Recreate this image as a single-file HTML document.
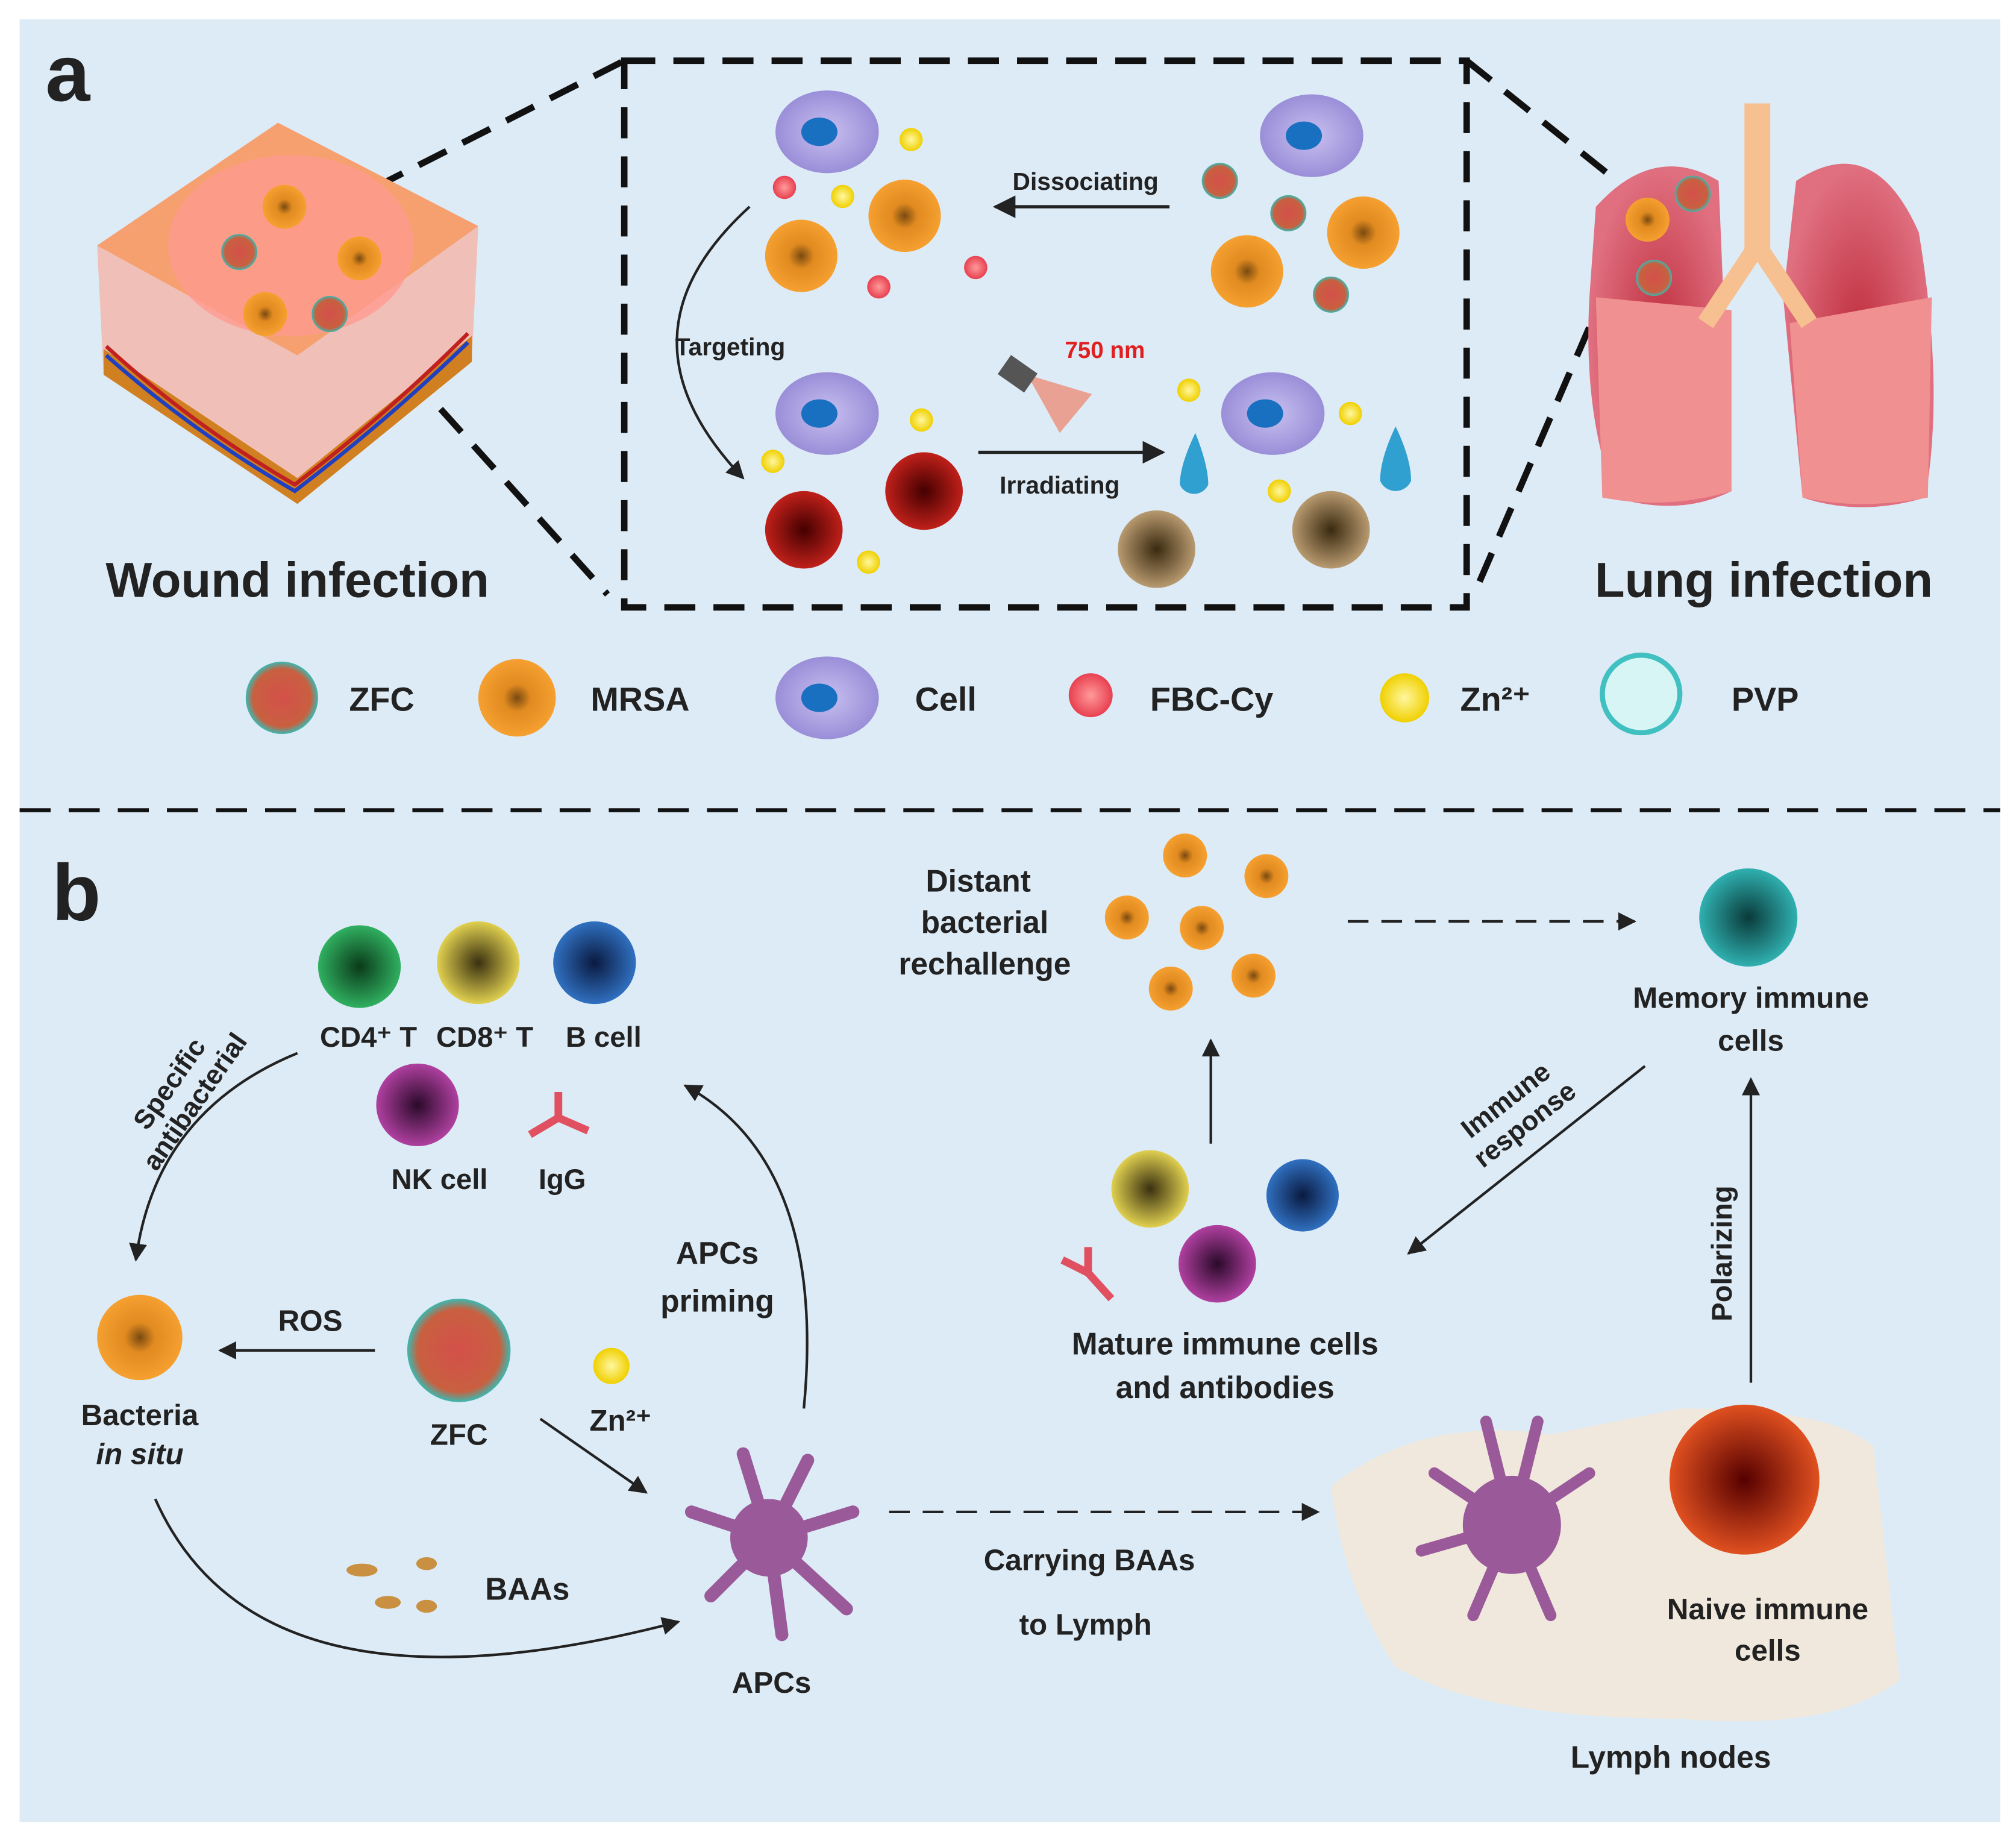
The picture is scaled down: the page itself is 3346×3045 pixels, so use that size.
<!DOCTYPE html>
<html><head><meta charset="utf-8"><style>
html,body{margin:0;padding:0;background:#fff}
svg{display:block}
text{font-family:"Liberation Sans",sans-serif;font-weight:bold;fill:#222}
</style></head><body>
<svg width="3346" height="3045" viewBox="0 0 1560 1420" xmlns="http://www.w3.org/2000/svg">
<defs>
<radialGradient id="mrsa"><stop offset="0" stop-color="#7a4a10"/><stop offset=".35" stop-color="#e08a20"/><stop offset="1" stop-color="#f5a030"/></radialGradient>
<radialGradient id="red"><stop offset="0" stop-color="#400"/><stop offset="1" stop-color="#c0201a"/></radialGradient>
<radialGradient id="brown"><stop offset="0" stop-color="#3a2a10"/><stop offset="1" stop-color="#b89a70"/></radialGradient>
<radialGradient id="zfc"><stop offset="0" stop-color="#d4504a"/><stop offset=".8" stop-color="#c86040"/><stop offset="1" stop-color="#3bb8b0"/></radialGradient>
<radialGradient id="cell"><stop offset="0" stop-color="#c8c0f0"/><stop offset="1" stop-color="#9a8ed8"/></radialGradient>
<radialGradient id="yel"><stop offset="0" stop-color="#fff7a0"/><stop offset="1" stop-color="#f0d000"/></radialGradient>
<radialGradient id="pink"><stop offset="0" stop-color="#ff9a9a"/><stop offset="1" stop-color="#e84050"/></radialGradient>
<radialGradient id="g1"><stop offset="0" stop-color="#0a3a1a"/><stop offset="1" stop-color="#30b060"/></radialGradient>
<radialGradient id="g2"><stop offset="0" stop-color="#3a3010"/><stop offset="1" stop-color="#e0d050"/></radialGradient>
<radialGradient id="g3"><stop offset="0" stop-color="#0a1a40"/><stop offset="1" stop-color="#3070c0"/></radialGradient>
<radialGradient id="g4"><stop offset="0" stop-color="#2a0a2a"/><stop offset="1" stop-color="#b040a0"/></radialGradient>
<radialGradient id="g5"><stop offset="0" stop-color="#0a3a3a"/><stop offset="1" stop-color="#30b0b0"/></radialGradient>
<radialGradient id="g6"><stop offset="0" stop-color="#500"/><stop offset="1" stop-color="#e05020"/></radialGradient>
<radialGradient id="lung"><stop offset="0" stop-color="#c03040"/><stop offset="1" stop-color="#e07080"/></radialGradient>
<marker id="ar" viewBox="0 0 10 10" refX="9" refY="5" markerWidth="7" markerHeight="7" orient="auto"><path d="M0,0L10,5L0,10z" fill="#222"/></marker>
<g id="M"><circle r="28" fill="url(#mrsa)"/></g>
<g id="Ms"><circle r="17" fill="url(#mrsa)"/></g>
<g id="Z"><circle r="14" fill="url(#zfc)"/></g>
<g id="C"><ellipse rx="40" ry="32" fill="url(#cell)"/><ellipse cx="-6" rx="14" ry="11" fill="#1a70c0"/></g>
<g id="Y"><circle r="9" fill="url(#yel)"/></g>
<g id="P"><circle r="9" fill="url(#pink)"/></g>
</defs>
<rect x="15" y="15" width="1533" height="1395" fill="#ddebf6"/>
<text x="35" y="78" font-size="62">a</text>
<text x="40" y="712" font-size="62">b</text>
<g stroke="#111" stroke-width="5" stroke-dasharray="24,14" fill="none">
<rect x="483" y="47" width="652" height="423"/>
<line x1="290" y1="145" x2="483" y2="47"/>
<line x1="290" y1="260" x2="470" y2="460"/>
<line x1="1135" y1="47" x2="1245" y2="135"/>
<line x1="1145" y1="450" x2="1240" y2="230"/>
<line x1="15" y1="627" x2="1548" y2="627" stroke-width="3"/>
</g>
<path d="M75,190 L215,95 L370,175 L365,280 L230,390 L80,290Z" fill="#f0c0b8"/>
<path d="M75,190 L215,95 L370,175 L230,275Z" fill="#f6a070"/>
<ellipse cx="225" cy="190" rx="95" ry="70" fill="#ff9a90" opacity=".8"/>
<path d="M80,290 L230,390 L365,280 L365,260 L230,370 L80,270Z" fill="#d08020"/>
<path d="M82,268 Q150,330 228,375 Q300,320 362,258" stroke="#c02020" stroke-width="3" fill="none"/>
<path d="M82,275 Q150,335 228,380 Q300,325 362,265" stroke="#2040c0" stroke-width="3" fill="none"/>
<use href="#Ms" x="220" y="160"/><use href="#Ms" x="278" y="200"/><use href="#Ms" x="205" y="243"/>
<use href="#Z" x="185" y="195"/><use href="#Z" x="255" y="243"/>
<text x="230" y="462" font-size="38" text-anchor="middle">Wound infection</text>
<path d="M1235,160 Q1280,110 1330,140 L1340,380 Q1300,400 1250,385 Q1225,320 1230,230Z" fill="url(#lung)"/>
<path d="M1390,140 Q1450,100 1485,180 Q1505,300 1490,385 Q1440,400 1395,385 L1380,230Z" fill="url(#lung)"/>
<path d="M1235,230 L1340,240 L1340,380 Q1290,395 1240,385Z" fill="#f09090"/>
<path d="M1385,250 L1495,230 L1492,385 Q1440,395 1395,385Z" fill="#f09090"/>
<rect x="1350" y="80" width="20" height="120" fill="#f7c090"/>
<path d="M1360,190 L1320,250 M1360,190 L1400,250" stroke="#f7c090" stroke-width="14" fill="none"/>
<use href="#Ms" x="1275" y="170"/><use href="#Z" x="1310" y="150"/><use href="#Z" x="1280" y="215"/>
<text x="1365" y="462" font-size="38" text-anchor="middle">Lung infection</text>
<use href="#C" x="640" y="102"/><use href="#C" x="1015" y="105"/>
<use href="#C" x="640" y="320"/><use href="#C" x="985" y="320"/>
<use href="#M" x="620" y="198"/><use href="#M" x="700" y="167"/>
<use href="#M" x="965" y="210"/><use href="#M" x="1055" y="180"/>
<use href="#Y" x="705" y="108"/><use href="#Y" x="652" y="152"/><use href="#Y" x="713" y="325"/><use href="#Y" x="598" y="357"/><use href="#Y" x="672" y="435"/>
<use href="#Y" x="920" y="302"/><use href="#Y" x="1045" y="320"/><use href="#Y" x="990" y="380"/>
<use href="#P" x="607" y="145"/><use href="#P" x="680" y="222"/><use href="#P" x="755" y="207"/>
<use href="#Z" x="944" y="140"/><use href="#Z" x="997" y="165"/><use href="#Z" x="1030" y="228"/>
<circle cx="622" cy="410" r="30" fill="url(#red)"/><circle cx="715" cy="380" r="30" fill="url(#red)"/>
<circle cx="895" cy="425" r="30" fill="url(#brown)"/><circle cx="1030" cy="410" r="30" fill="url(#brown)"/>
<path d="M925,335 Q935,360 935,375 A12,12 0 0 1 913,375 Q913,360 925,335Z" fill="#30a0d0"/>
<path d="M1080,330 Q1092,355 1092,372 A13,13 0 0 1 1068,372 Q1068,355 1080,330Z" fill="#30a0d0"/>
<line x1="905" y1="160" x2="770" y2="160" stroke="#222" stroke-width="2.5" marker-end="url(#ar)"/>
<text x="840" y="147" font-size="19" text-anchor="middle">Dissociating</text>
<path d="M580,160 Q470,260 575,370" stroke="#222" stroke-width="2" fill="none" marker-end="url(#ar)"/>
<text x="565" y="275" font-size="19" text-anchor="middle">Targeting</text>
<line x1="757" y1="350" x2="900" y2="350" stroke="#222" stroke-width="2.5" marker-end="url(#ar)"/>
<text x="820" y="382" font-size="19" text-anchor="middle">Irradiating</text>
<text x="855" y="277" font-size="18" style="fill:#e02020" text-anchor="middle">750 nm</text>
<path d="M795,290 L845,305 L820,335Z" fill="#f07050" opacity=".6"/>
<rect x="775" y="280" width="25" height="18" fill="#555" transform="rotate(35 787 289)"/>
<circle cx="218" cy="540" r="28" fill="url(#zfc)"/><text x="270" y="550" font-size="26">ZFC</text>
<circle cx="400" cy="540" r="30" fill="url(#mrsa)"/><text x="457" y="550" font-size="26">MRSA</text>
<use href="#C" x="640" y="540"/><text x="708" y="550" font-size="26">Cell</text>
<circle cx="844" cy="538" r="17" fill="url(#pink)"/><text x="890" y="550" font-size="26">FBC-Cy</text>
<circle cx="1087" cy="540" r="19" fill="url(#yel)"/><text x="1130" y="550" font-size="26">Zn²⁺</text>
<circle cx="1270" cy="537" r="30" fill="#d8f5f5" stroke="#40c0c0" stroke-width="4"/><text x="1340" y="550" font-size="26">PVP</text>
<circle cx="278" cy="748" r="32" fill="url(#g1)"/><circle cx="370" cy="745" r="32" fill="url(#g2)"/><circle cx="460" cy="745" r="32" fill="url(#g3)"/>
<text x="285" y="810" font-size="22" text-anchor="middle">CD4⁺ T</text><text x="375" y="810" font-size="22" text-anchor="middle">CD8⁺ T</text><text x="467" y="810" font-size="22" text-anchor="middle">B cell</text>
<circle cx="323" cy="855" r="32" fill="url(#g4)"/>
<path d="M432,845 L432,865 M432,865 L410,878 M432,865 L455,875" stroke="#e05060" stroke-width="6" fill="none"/>
<text x="340" y="920" font-size="22" text-anchor="middle">NK cell</text><text x="435" y="920" font-size="22" text-anchor="middle">IgG</text>
<g transform="translate(140,845) rotate(-55)">
<text x="0" y="-4" font-size="21" text-anchor="middle">Specific</text>
<text x="0" y="20" font-size="21" text-anchor="middle">antibacterial</text>
</g>
<path d="M230,815 Q120,860 105,975" stroke="#222" stroke-width="2" fill="none" marker-end="url(#ar)"/>
<circle cx="108" cy="1035" r="33" fill="url(#mrsa)"/>
<text x="108" y="1103" font-size="23" text-anchor="middle">Bacteria</text>
<text x="108" y="1133" font-size="23" text-anchor="middle" font-style="italic">in situ</text>
<line x1="290" y1="1045" x2="170" y2="1045" stroke="#222" stroke-width="2" marker-end="url(#ar)"/>
<text x="240" y="1030" font-size="23" text-anchor="middle">ROS</text>
<circle cx="355" cy="1045" r="40" fill="url(#zfc)"/>
<text x="355" y="1118" font-size="23" text-anchor="middle">ZFC</text>
<circle cx="473" cy="1057" r="14" fill="url(#yel)"/>
<text x="480" y="1107" font-size="23" text-anchor="middle">Zn²⁺</text>
<line x1="418" y1="1098" x2="500" y2="1155" stroke="#222" stroke-width="2" marker-end="url(#ar)"/>
<text x="555" y="978" font-size="24" text-anchor="middle">APCs</text>
<text x="555" y="1015" font-size="24" text-anchor="middle">priming</text>
<path d="M622,1090 Q640,900 530,840" stroke="#222" stroke-width="2" fill="none" marker-end="url(#ar)"/>
<path d="M120,1160 Q200,1340 525,1255" stroke="#222" stroke-width="2" fill="none" marker-end="url(#ar)"/>
<g fill="#c89040"><ellipse cx="280" cy="1215" rx="12" ry="5"/><ellipse cx="300" cy="1240" rx="10" ry="5"/><ellipse cx="330" cy="1210" rx="8" ry="5"/><ellipse cx="330" cy="1243" rx="8" ry="5"/></g>
<text x="408" y="1238" font-size="24" text-anchor="middle">BAAs</text>
<g transform="translate(595,1190)" stroke="#9a5a9a" stroke-width="10" stroke-linecap="round">
<line x1="0" y1="0" x2="-60" y2="-20"/><line x1="0" y1="0" x2="-45" y2="45"/><line x1="0" y1="0" x2="10" y2="75"/><line x1="0" y1="0" x2="60" y2="55"/><line x1="0" y1="0" x2="65" y2="-20"/><line x1="0" y1="0" x2="30" y2="-60"/><line x1="0" y1="0" x2="-20" y2="-65"/>
<circle r="30" fill="#9a5a9a" stroke="none"/></g>
<text x="597" y="1310" font-size="23" text-anchor="middle">APCs</text>
<line x1="688" y1="1170" x2="1020" y2="1170" stroke="#222" stroke-width="2" stroke-dasharray="16,10" marker-end="url(#ar)"/>
<text x="843" y="1215" font-size="23" text-anchor="middle">Carrying BAAs</text>
<text x="840" y="1265" font-size="23" text-anchor="middle">to Lymph</text>
<path d="M1030,1150 Q1100,1095 1200,1110 L1300,1090 Q1420,1090 1450,1120 L1470,1300 Q1420,1340 1300,1330 Q1150,1330 1080,1290 Q1040,1230 1030,1150Z" fill="#f0e8dc"/>
<g transform="translate(1170,1180)" stroke="#9a5a9a" stroke-width="9" stroke-linecap="round">
<line x1="0" y1="0" x2="-60" y2="-40"/><line x1="0" y1="0" x2="-70" y2="20"/><line x1="0" y1="0" x2="-30" y2="70"/><line x1="0" y1="0" x2="30" y2="70"/><line x1="0" y1="0" x2="20" y2="-80"/><line x1="0" y1="0" x2="-20" y2="-80"/><line x1="0" y1="0" x2="60" y2="-40"/>
<circle r="38" fill="#9a5a9a" stroke="none"/></g>
<circle cx="1350" cy="1145" r="58" fill="url(#g6)"/>
<text x="1368" y="1253" font-size="23" text-anchor="middle">Naive immune</text>
<text x="1368" y="1285" font-size="23" text-anchor="middle">cells</text>
<text x="1293" y="1368" font-size="24" text-anchor="middle">Lymph nodes</text>
<line x1="1355" y1="1070" x2="1355" y2="835" stroke="#222" stroke-width="2" marker-end="url(#ar)"/>
<text x="1340" y="970" font-size="22" transform="rotate(-90 1340 970)" text-anchor="middle">Polarizing</text>
<circle cx="1353" cy="710" r="38" fill="url(#g5)"/>
<text x="1355" y="780" font-size="23" text-anchor="middle">Memory immune</text>
<text x="1355" y="813" font-size="23" text-anchor="middle">cells</text>
<line x1="1273" y1="825" x2="1090" y2="970" stroke="#222" stroke-width="2" marker-end="url(#ar)"/>
<g transform="translate(1172,860) rotate(-38)">
<text x="0" y="-4" font-size="21" text-anchor="middle">Immune</text>
<text x="0" y="20" font-size="21" text-anchor="middle">response</text>
</g>
<circle cx="890" cy="920" r="30" fill="url(#g2)"/><circle cx="1008" cy="925" r="28" fill="url(#g3)"/><circle cx="942" cy="978" r="30" fill="url(#g4)"/>
<path d="M842,985 L842,965 M842,985 L822,975 M842,985 L860,1005" stroke="#e05060" stroke-width="6" fill="none"/>
<text x="948" y="1048" font-size="24" text-anchor="middle">Mature immune cells</text>
<text x="948" y="1082" font-size="24" text-anchor="middle">and antibodies</text>
<line x1="937" y1="885" x2="937" y2="805" stroke="#222" stroke-width="2" marker-end="url(#ar)"/>
<use href="#Ms" x="917" y="662"/><use href="#Ms" x="980" y="678"/><use href="#Ms" x="872" y="710"/><use href="#Ms" x="930" y="718"/><use href="#Ms" x="906" y="765"/><use href="#Ms" x="970" y="755"/>
<text x="757" y="690" font-size="24" text-anchor="middle">Distant</text>
<text x="762" y="722" font-size="24" text-anchor="middle">bacterial</text>
<text x="762" y="754" font-size="24" text-anchor="middle">rechallenge</text>
<line x1="1043" y1="713" x2="1265" y2="713" stroke="#222" stroke-width="2" stroke-dasharray="16,10" marker-end="url(#ar)"/>
</svg>
</body></html>
